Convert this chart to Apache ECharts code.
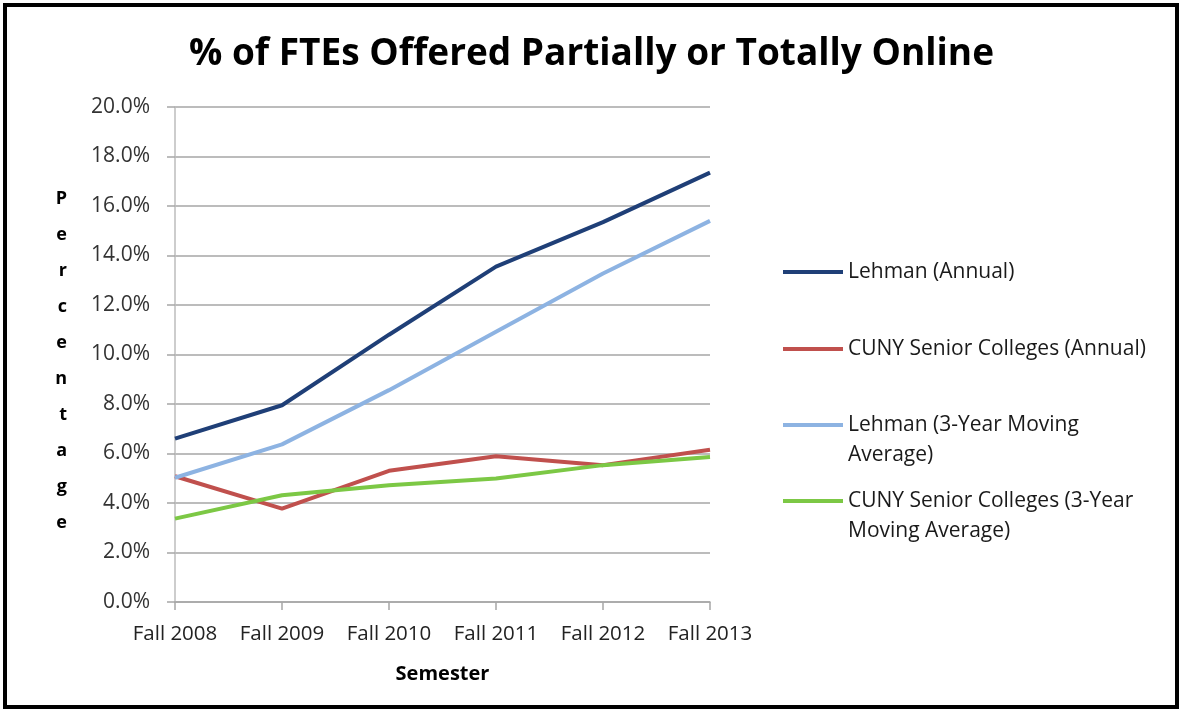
<!DOCTYPE html>
<html>
<head>
<meta charset="utf-8">
<script src="https://cdn.jsdelivr.net/npm/echarts@6/dist/echarts.min.js"></script>
<style>
  html, body { margin: 0; padding: 0; background: #fff; }
  #chart { width: 1183px; height: 713px; }
</style>
</head>
<body>
<div id="chart"></div>
<script>
// data
const semesters = ['Fall 2008', 'Fall 2009', 'Fall 2010', 'Fall 2011', 'Fall 2012', 'Fall 2013']
const lehmanAnnual = [6.6, 7.95, 10.8, 13.55, 15.35, 17.35]
const cunyAnnual = [5.08, 3.77, 5.3, 5.89, 5.53, 6.15]
const lehmanAvg = [5.02, 6.37, 8.56, 10.92, 13.27, 15.4]
const cunyAvg = [3.37, 4.31, 4.72, 4.99, 5.53, 5.86]
const yTicks = [0, 2, 4, 6, 8, 10, 12, 14, 16, 18, 20]

const FONT = '"Open Sans", sans-serif'

const chart = echarts.init(document.getElementById('chart'))

// one legend per item so the wrapped ones keep the spacing of the picture.
// wrapped labels get an empty first line so the icon sits on the first text line
const legendItem = (name, top, label) => ({
  orient: 'vertical',
  left: 783,
  top: top,
  padding: 0,
  data: [name],
  icon: 'rect',
  itemWidth: 60,
  itemHeight: 4,
  itemGap: 0,
  formatter: () => label,
  textStyle: {
    fontFamily: FONT,
    fontSize: 21,
    color: '#1a1a1a',
    lineHeight: 30
  }
})

const lineSeries = (name, data, color) => ({
  name: name,
  type: 'line',
  data: data,
  showSymbol: false,
  symbol: 'none',
  lineStyle: { color: color, width: 4 },
  itemStyle: { color: color }
})

const option = {
  backgroundColor: '#fff',
  animation: false,
  title: {
    text: '% of FTEs Offered Partially or Totally Online',
    left: 'center',
    top: 31,
    textStyle: {
      fontFamily: FONT,
      fontWeight: 'bold',
      fontSize: 37,
      color: '#000'
    }
  },
  graphic: [
    {
      type: 'rect',
      shape: { x: 5, y: 5, width: 1172, height: 702 },
      style: { fill: null, stroke: '#000', lineWidth: 4 },
      silent: true
    }
  ],
  legend: [
    legendItem('Lehman (Annual)', 257, 'Lehman (Annual)'),
    legendItem('CUNY Senior Colleges (Annual)', 334, 'CUNY Senior Colleges (Annual)'),
    legendItem('Lehman (3-Year Moving Average)', 380, ' \nLehman (3-Year Moving\nAverage)'),
    legendItem('CUNY Senior Colleges (3-Year Moving Average)', 456, ' \nCUNY Senior Colleges (3-Year\nMoving Average)')
  ],
  grid: {
    left: 175,
    right: 473,
    top: 107,
    bottom: 111
  },
  xAxis: {
    type: 'category',
    data: semesters,
    boundaryGap: false,
    name: 'Semester',
    nameLocation: 'middle',
    nameGap: 62,
    nameTextStyle: {
      fontFamily: FONT,
      fontWeight: 'bold',
      fontSize: 20,
      color: '#000'
    },
    axisLine: { lineStyle: { color: '#a6a6a6', width: 1.5 } },
    axisTick: { show: true, interval: 0, length: 8, inside: false, lineStyle: { color: '#a6a6a6', width: 1.5 } },
    axisLabel: {
      interval: 0,
      hideOverlap: false,
      fontFamily: FONT,
      fontSize: 20.5,
      color: '#222',
      margin: 22
    },
    splitLine: { show: false }
  },
  yAxis: {
    type: 'value',
    min: 0,
    max: 20,
    interval: 2,
    // small spacer line first: nudges the stacked letters down a little
    name: '{s| }\nP\ne\nr\nc\ne\nn\nt\na\ng\ne',
    nameLocation: 'middle',
    nameRotate: 0,
    nameGap: 108,
    nameTextStyle: {
      fontFamily: FONT,
      fontWeight: 'bold',
      fontSize: 18,
      lineHeight: 36,
      color: '#000',
      rich: {
        s: { fontSize: 1, lineHeight: 12 }
      }
    },
    axisLine: { show: true, lineStyle: { color: '#bdbdbd', width: 1.5 } },
    axisTick: { show: true, length: 8, lineStyle: { color: '#a6a6a6', width: 1.5 } },
    axisLabel: {
      fontFamily: FONT,
      fontSize: 21,
      color: '#333',
      margin: 25,
      formatter: v => (yTicks.indexOf(v) >= 0 ? v.toFixed(1) + '%' : '')
    },
    splitLine: { show: true, lineStyle: { color: '#a6a6a6', width: 1.5 } }
  },
  series: [
    lineSeries('Lehman (Annual)', lehmanAnnual, '#1f3f77'),
    lineSeries('CUNY Senior Colleges (Annual)', cunyAnnual, '#c0504d'),
    lineSeries('Lehman (3-Year Moving Average)', lehmanAvg, '#8db3e2'),
    lineSeries('CUNY Senior Colleges (3-Year Moving Average)', cunyAvg, '#7cc845')
  ]
}

chart.setOption(option)

window.addEventListener('resize', () => chart.resize())
</script>
</body>
</html>
